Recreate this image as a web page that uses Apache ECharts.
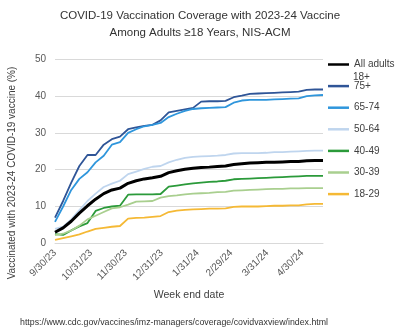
<!DOCTYPE html>
<html>
<head>
<meta charset="utf-8">
<script src="https://cdn.jsdelivr.net/npm/echarts@6/dist/echarts.min.js"></script>
<style>html,body{margin:0;padding:0;background:#fff;}#c{width:400px;height:331px;}</style>
</head>
<body>
<div id="c"></div>
<script>
// ---- data ----
var weekEnd = ['2023-09-30','2023-10-07','2023-10-14','2023-10-21','2023-10-28','2023-11-04','2023-11-11','2023-11-18','2023-11-25',
  '2023-12-02','2023-12-09','2023-12-16','2023-12-23','2023-12-30','2024-01-06','2024-01-13','2024-01-20','2024-01-27',
  '2024-02-03','2024-02-10','2024-02-17','2024-02-24','2024-03-02','2024-03-09','2024-03-16','2024-03-23','2024-03-30',
  '2024-04-06','2024-04-13','2024-04-20','2024-04-27','2024-05-04','2024-05-11','2024-05-18'];
var allAdults = [3.0,4.2,6.0,8.2,10.2,12.0,13.5,14.5,15.0,16.3,17.0,17.5,17.8,18.2,19.2,19.7,20.1,20.4,20.6,20.7,20.9,21.0,21.4,21.6,21.8,21.9,22.0,22.0,22.1,22.2,22.2,22.4,22.5,22.5];
var age75plus = [7.0,11.5,16.5,21.0,24.0,24.0,26.8,28.3,29.0,31.0,31.5,31.9,32.2,33.4,35.6,36.0,36.4,36.8,38.5,38.6,38.6,38.7,39.7,40.1,40.6,40.7,40.8,40.9,41.0,41.1,41.2,41.7,41.8,41.8];
var age65to74 = [5.8,10.0,14.5,17.5,19.3,22.0,23.8,26.8,27.5,30.0,31.0,31.8,32.2,32.7,34.3,35.2,36.0,36.5,36.7,36.8,36.9,37.0,38.2,38.8,39.0,39.0,39.0,39.1,39.2,39.3,39.4,40.0,40.2,40.3];
var age50to64 = [3.9,4.5,6.5,9.0,11.5,13.5,15.3,16.2,17.0,18.8,19.5,20.2,20.8,21.0,22.0,22.7,23.2,23.5,23.6,23.7,23.8,24.0,24.4,24.5,24.5,24.5,24.6,24.8,24.8,24.9,25.0,25.1,25.2,25.2];
var age40to49 = [2.5,2.3,3.5,4.6,5.5,8.8,9.6,10.0,10.2,13.2,13.3,13.3,13.3,13.4,15.4,15.7,16.0,16.3,16.5,16.7,16.8,17.0,17.4,17.5,17.6,17.7,17.8,17.9,18.0,18.1,18.2,18.3,18.3,18.3];
var age30to39 = [2.2,2.6,3.5,4.8,6.5,7.5,8.5,9.5,9.8,10.5,11.3,11.4,11.5,12.4,12.8,13.0,13.3,13.5,13.6,13.7,13.9,14.0,14.3,14.4,14.5,14.6,14.7,14.8,14.8,14.9,14.9,15.0,15.0,15.0];
var age18to29 = [0.9,1.4,1.9,2.4,3.2,3.9,4.2,4.5,4.7,6.7,6.9,7.0,7.2,7.4,8.5,8.9,9.1,9.2,9.3,9.4,9.4,9.5,9.9,10.0,10.0,10.0,10.1,10.2,10.2,10.3,10.3,10.6,10.7,10.7];
var tickDates = ['2023-09-30','2023-10-31','2023-11-30','2023-12-31','2024-01-31','2024-02-29','2024-03-31','2024-04-30'];
var axisStart = '2023-09-30', axisEnd = '2024-05-18';

function ts(s){ var p = s.split('-'); return new Date(+p[0], +p[1]-1, +p[2]).getTime(); }
function pairs(vals){ return vals.map(function(v,i){ return [ts(weekEnd[i]), v]; }); }

var seriesDefs = [
  {name:'75+', data:age75plus, color:'#2f5597', w:1.8},
  {name:'65-74', data:age65to74, color:'#2f96dc', w:1.8},
  {name:'50-64', data:age50to64, color:'#bfd5ee', w:1.8},
  {name:'40-49', data:age40to49, color:'#2b9a3a', w:1.8},
  {name:'30-39', data:age30to39, color:'#a9cf8f', w:1.8},
  {name:'18-29', data:age18to29, color:'#f5b935', w:1.8},
  {name:'All adults', data:allAdults, color:'#000000', w:3}
];

var chart = echarts.init(document.getElementById('c'), null, {renderer:'canvas'});
var font = 'Liberation Sans, Arial, sans-serif';
chart.setOption({
  animation:false,
  textStyle:{fontFamily:font},
  title:{
    text:'COVID-19 Vaccination Coverage with 2023-24 Vaccine\nAmong Adults \u226518 Years, NIS-ACM',
    left:'center', top:3,
    textStyle:{fontSize:11.5, lineHeight:16.5, fontWeight:'normal', color:'#333333', fontFamily:font}
  },
  legend:{
    orient:'vertical', left:328, top:57.5, padding:0,
    itemWidth:21, itemHeight:2.5, itemGap:7.6, icon:'rect',
    data:['All adults','75+','65-74','50-64','40-49','30-39','18-29'],
    textStyle:{fontSize:10, lineHeight:14, color:'#404040'}
  },
  grid:{left:55, right:77, top:59.3, bottom:87.7},
  xAxis:{
    type:'value', min:ts(axisStart), max:ts(axisEnd),
    name:'Week end date', nameLocation:'middle', nameGap:46,
    nameTextStyle:{fontSize:10.5, color:'#404040'},
    axisLine:{show:true, lineStyle:{color:'#d9d9d9', width:1}},
    axisTick:{show:false},
    splitLine:{show:false},
    axisLabel:{
      rotate:45, fontSize:10, color:'#595959', margin:8, hideOverlap:false,
      customValues: tickDates.map(ts),
      formatter:function(v){ var d = new Date(v); return (d.getMonth()+1)+'/'+d.getDate()+'/'+String(d.getFullYear()).slice(2); }
    }
  },
  yAxis:{
    type:'value', min:0, max:50, interval:10,
    axisLine:{show:false}, axisTick:{show:false},
    splitLine:{lineStyle:{color:'#d9d9d9', width:1}},
    axisLabel:{fontSize:10, color:'#595959', margin:9}
  },
  graphic:[
    {type:'text', x:12, y:173, rotation:Math.PI/2,
     style:{text:'Vaccinated with 2023-24 COVID-19 vaccine (%)', fontSize:10, fill:'#404040', align:'center', verticalAlign:'middle', fontFamily:font}},
    {type:'text', x:353, y:77,
     style:{text:'18+', fontSize:10, fill:'#404040', align:'left', verticalAlign:'middle', fontFamily:font}},
    {type:'text', x:20, y:323,
     style:{text:'https://www.cdc.gov/vaccines/imz-managers/coverage/covidvaxview/index.html', fontSize:8.8, fill:'#333333', align:'left', verticalAlign:'middle', fontFamily:font}}
  ],
  series: seriesDefs.map(function(s){
    return {name:s.name, type:'line', data:pairs(s.data), symbol:'none', showSymbol:false,
      lineStyle:{color:s.color, width:s.w}, itemStyle:{color:s.color}, z: s.name==='All adults'?3:2};
  })
});
</script>
</body>
</html>
